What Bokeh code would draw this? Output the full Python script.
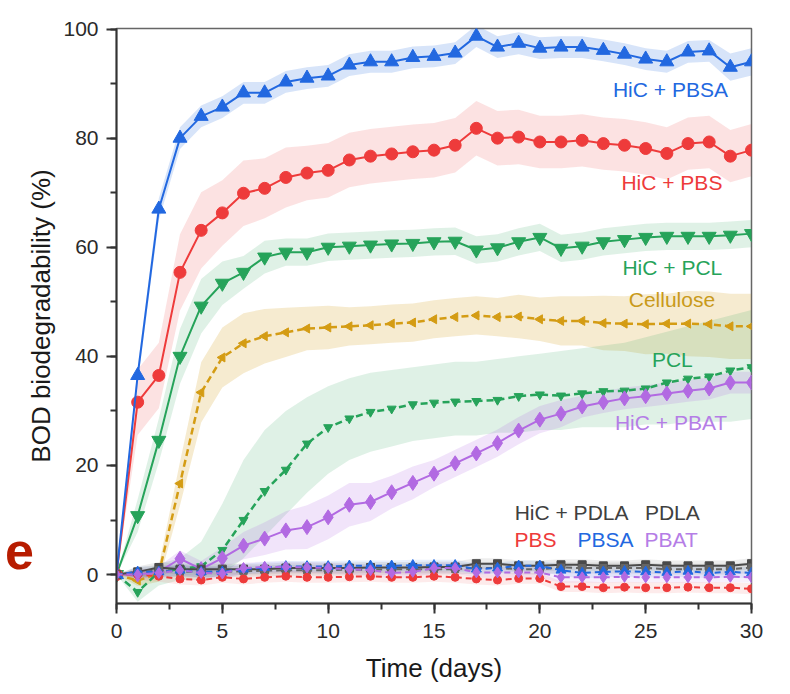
import math
from bokeh.plotting import figure
from bokeh.models import Range1d, SingleIntervalTicker, Label, Div
from bokeh.layouts import column
from bokeh.embed import file_html
from bokeh.resources import INLINE

days = list(range(31))

hic_pbsa = [0, 36.5, 67, 80, 84, 85.7, 88.3, 88.3, 90.3, 91, 91.4, 93.4, 94, 94, 94.8, 95, 95.6, 98.7, 96.7, 97.4, 96.5, 96.7, 96.7, 96.1, 95.4, 94.5, 94, 95.8, 96, 93, 94]
hic_pbsa_err = [0, 1.5, 2, 2, 2, 2, 2, 2, 2, 2, 2, 2, 2, 2, 2, 2, 2, 2, 2, 2, 2, 2, 2, 2, 2, 2, 2, 2, 2, 2.5, 2.5]

hic_pbs = [0, 31.6, 36.5, 55.4, 63.1, 66.3, 69.9, 70.8, 72.8, 73.6, 74.1, 76, 76.7, 77.1, 77.5, 77.8, 78.7, 81.8, 80, 80.2, 79.3, 79.3, 79.6, 79, 78.7, 78.1, 77.2, 79, 79.3, 76.7, 77.8]
hic_pbs_err = [0, 6, 6, 7, 7, 6, 6, 5.5, 5.5, 5, 5, 5, 5, 5, 5, 5, 5, 5, 5, 5, 4.8, 4.8, 4.8, 4.8, 4.8, 4.8, 4.8, 4.8, 4.8, 4.8, 4.8]

hic_pcl = [0, 10.8, 24.6, 40, 49.2, 53.4, 55.4, 58.2, 59.1, 59.1, 60, 60.2, 60.4, 60.6, 60.7, 61, 61.1, 59.5, 59.9, 61, 61.8, 59.8, 60.2, 61, 61.4, 61.8, 62, 62, 62, 62.2, 62.5]
hic_pcl_err = [0, 3, 4, 5, 5, 4, 3, 3, 2.5, 2.5, 2.5, 2.5, 2.5, 2.5, 2.5, 2.5, 2.5, 2.5, 2.5, 2.5, 2.5, 2.5, 2.5, 2.5, 2.5, 2.5, 2.5, 2.5, 2.5, 2.5, 2.5]

cellulose = [0, -1.1, 0.2, 16.7, 33.4, 39.8, 42.4, 43.7, 44.4, 45.1, 45.3, 45.5, 45.7, 46, 46.2, 46.8, 47.2, 47.5, 47.2, 47.3, 46.8, 46.5, 46.5, 46.1, 46, 45.9, 46, 46, 45.9, 45.5, 45.5]
cellulose_err = [0, 1, 1.5, 4, 5.5, 5.5, 5.5, 5, 4.5, 4, 4, 3.5, 3.5, 3.5, 3.5, 3.5, 3.5, 3.5, 3.5, 4, 4, 4.5, 4.5, 5, 5, 5.5, 5.5, 6, 6, 6, 6]

pcl = [0, -3.2, 0.5, 1.0, 1.5, 4.5, 10, 15.3, 19.2, 24, 27, 28.6, 29.8, 30.4, 31.2, 31.5, 31.7, 31.8, 32, 32.7, 33, 32.8, 33.2, 33.6, 33.7, 34.1, 35.2, 35.9, 36.3, 37.4, 38]
pcl_hi = [0, 0, 2, 3, 6, 13, 21, 26.5, 30, 32.5, 34.5, 36, 37, 37.5, 38, 38.5, 39, 39, 39.5, 40, 40.5, 41, 41.5, 42, 42.5, 43.5, 44.5, 45.5, 46.5, 47.5, 48.5]
pcl_lo = [0, -5, -2, -1, -1, 0, 3, 7, 11, 15, 18.5, 21, 22.5, 23.5, 24.5, 25, 25.5, 25.5, 26, 26, 26.5, 26.5, 27, 27, 27, 27.5, 27.5, 28, 28, 28, 28.5]

hic_pbat = [0, 0, 0.5, 2.9, 1.0, 3.0, 5.3, 6.6, 8.1, 8.7, 10.5, 12.8, 13.3, 15.1, 16.8, 18.5, 20.4, 22.2, 24.1, 26.4, 28.4, 29.5, 30.8, 31.6, 32.3, 32.7, 33.2, 33.7, 34.1, 35.2, 35.2]
hic_pbat_err = [0, 0.5, 1, 1.5, 1.5, 2, 2.5, 3, 3.5, 4, 4, 4, 3.5, 3, 3, 2.5, 2.5, 2.5, 2.5, 2.5, 2.5, 2.5, 2, 2, 2, 2, 2, 2, 2, 2, 2]

hic_pdla = [0, 0.5, 1.3, 1.0, 1.0, 1.0, 1.0, 1.0, 1.2, 1.2, 1.2, 1.2, 1.3, 1.3, 1.3, 1.4, 1.4, 2.0, 2.0, 1.6, 1.6, 1.8, 1.8, 1.6, 1.6, 1.8, 1.6, 1.6, 1.6, 1.6, 2.0]
pdla = [0, 0.3, 0.8, 0.5, 0.5, 0.5, 0.6, 0.7, 0.8, 0.8, 0.8, 0.9, 0.9, 1.0, 1.0, 1.0, 1.0, 1.2, 1.2, 1.0, 1.0, 1.3, 1.2, 1.2, 1.2, 1.2, 1.0, 1.0, 1.0, 1.0, 1.3]
pbs = [0, 0, -0.3, -0.8, -1.0, -0.5, -0.8, -0.5, -0.3, -0.5, -0.5, -0.4, -0.3, -0.5, -0.5, -0.3, -0.5, -0.8, -1.0, -0.7, -0.7, -2.2, -2.2, -2.4, -2.3, -2.4, -2.4, -2.3, -2.4, -2.4, -2.6]
pbsa = [0, 0.5, 0.5, 0.8, 0.5, 0.5, 1.0, 1.3, 1.5, 1.5, 1.5, 1.6, 1.6, 1.6, 1.7, 1.7, 1.7, 1.0, 1.2, 1.6, 1.6, 0.8, 0.3, 0.5, 0.6, 0.5, 0.4, 0.6, 0.3, 0.5, 0.3]
pbat = [0, 0, 0.3, 0.8, 0.3, 0.2, 1.2, 1.4, 1.4, 1.3, 1.2, 1.0, 0.8, 0.3, 0.5, 1.2, 1.2, 0.4, 0.4, 0.4, 0.4, -0.5, -0.5, -0.5, -0.4, -0.5, -0.5, -0.5, -0.5, -0.4, -0.5]
cluster_err = [0, 1, 1, 1, 1, 1, 1, 1, 1, 1, 1, 1, 1, 1, 1, 1, 1, 1, 1, 1, 1, 1, 1, 1, 1, 1, 1, 1, 1, 1, 1]

x_ticks_interval = 5
y_ticks_interval = 20

BLUE = "#2268e0"
RED = "#ee3b3b"
GREEN = "#26a35a"
GOLD = "#d49c14"
PURPLE = "#b26ae2"
GRAY = "#4a4a4a"
FONT = "Liberation Sans"

p = figure(width=788, height=692, output_backend="svg", toolbar_location=None,
           x_range=Range1d(0, 30), y_range=Range1d(-5.3, 100.1),
           min_border_left=116, min_border_top=28, min_border_right=37, min_border_bottom=89)
p.background_fill_color = "white"
p.border_fill_color = "white"
p.grid.visible = False
p.outline_line_color = "#666666"
p.outline_line_width = 1.5

def band(y, lo_err=None, hi_err=None, lo=None, hi=None, color="black", alpha=0.18):
    if lo is None:
        lo = [a - e for a, e in zip(y, lo_err)]
        hi = [a + e for a, e in zip(y, hi_err)]
    p.varea(x=days, y1=lo, y2=hi, fill_color=color, fill_alpha=alpha)

# bands
band(cellulose, cellulose_err, cellulose_err, color=GOLD, alpha=0.2)
band(pcl, lo=pcl_lo, hi=pcl_hi, color=GREEN, alpha=0.15)
band(hic_pbat, hic_pbat_err, hic_pbat_err, color=PURPLE, alpha=0.18)
band(hic_pcl, hic_pcl_err, hic_pcl_err, color=GREEN, alpha=0.15)
band(hic_pbs, hic_pbs_err, hic_pbs_err, color=RED, alpha=0.15)
band(hic_pbsa, hic_pbsa_err, hic_pbsa_err, color=BLUE, alpha=0.18)
for ser, col in [(pbs, RED), (pbsa, BLUE), (pbat, PURPLE), (pdla, GRAY), (hic_pdla, GRAY)]:
    band(ser, cluster_err, cluster_err, color=col, alpha=0.10)

# dashed series
p.line(days, cellulose, line_color=GOLD, line_width=2.5, line_dash="7 4")
p.scatter(days, cellulose, marker="triangle", angle=math.pi / 2, size=9, color=GOLD)
p.line(days, pcl, line_color=GREEN, line_width=2.5, line_dash="7 4")
p.scatter(days, pcl, marker="inverted_triangle", size=9, color=GREEN)

# solid HiC series
p.line(days, hic_pbat, line_color=PURPLE, line_width=2)
p.scatter(days, hic_pbat, marker="diamond", size=15, color=PURPLE)
p.line(days, hic_pcl, line_color=GREEN, line_width=2)
p.scatter(days, hic_pcl, marker="inverted_triangle", size=14, color=GREEN)
p.line(days, hic_pbs, line_color=RED, line_width=2)
p.scatter(days, hic_pbs, marker="circle", size=12, color=RED)
p.line(days, hic_pbsa, line_color=BLUE, line_width=2)
p.scatter(days, hic_pbsa, marker="triangle", size=14, color=BLUE)

# near-zero cluster
p.line(days, hic_pdla, line_color=GRAY, line_width=2)
p.scatter(days, hic_pdla, marker="square", size=8, color=GRAY)
p.line(days, pdla, line_color="#666666", line_width=2, line_dash="6 4")
p.scatter(days, pdla, marker="square", size=7, color="#666666")
p.line(days, pbs, line_color=RED, line_width=2, line_dash="6 4")
p.scatter(days, pbs, marker="circle", size=8, color=RED)
p.line(days, pbsa, line_color=BLUE, line_width=2, line_dash="6 4")
p.scatter(days, pbsa, marker="triangle", size=10, color=BLUE)
p.line(days, pbat, line_color=PURPLE, line_width=2, line_dash="6 4")
p.scatter(days, pbat, marker="diamond", size=11, color=PURPLE)

# axes
p.xaxis.ticker = SingleIntervalTicker(interval=x_ticks_interval, num_minor_ticks=2)
p.yaxis.ticker = SingleIntervalTicker(interval=y_ticks_interval, num_minor_ticks=2)
for ax in (p.xaxis[0], p.yaxis[0]):
    ax.axis_line_color = "#333333"
    ax.axis_line_width = 2
    ax.major_tick_line_color = "#333333"
    ax.major_tick_line_width = 2
    ax.minor_tick_line_color = "#333333"
    ax.minor_tick_line_width = 2
    ax.major_tick_in = 0
    ax.major_tick_out = 10
    ax.minor_tick_in = 0
    ax.minor_tick_out = 6
    ax.major_label_text_font = FONT
    ax.major_label_text_font_size = "21px"
    ax.major_label_text_color = "#2a2a2a"
    ax.axis_label_text_font = FONT
    ax.axis_label_text_font_size = "26px"
    ax.axis_label_text_font_style = "normal"
    ax.axis_label_text_color = "#1a1a1a"
p.xaxis.axis_label = "Time (days)"
p.yaxis.axis_label = "BOD biodegradability (%)"
p.xaxis.major_label_standoff = 10
p.yaxis.major_label_standoff = 8
p.xaxis.axis_label_standoff = 12
p.yaxis.axis_label_standoff = 4

labels = [
    ("HiC + PBSA", 26.17, 89.0, BLUE),
    ("HiC + PBS", 26.24, 71.9, RED),
    ("HiC + PCL", 26.26, 56.3, GREEN),
    ("Cellulose", 26.24, 50.5, "#c99a1a"),
    ("PCL", 26.26, 39.4, GREEN),
    ("HiC + PBAT", 26.2, 27.8, "#b57de6"),
    ("HiC + PDLA", 21.5, 11.3, "#404040"),
    ("PDLA", 26.26, 11.3, "#404040"),
    ("PBS", 19.8, 6.4, RED),
    ("PBSA", 23.1, 6.4, BLUE),
    ("PBAT", 26.2, 6.4, "#b57de6"),
]
for txt, lx, ly, col in labels:
    p.add_layout(Label(x=lx, y=ly, text=txt, text_color=col, text_font=FONT,
                       text_font_size="21px", text_align="center", text_baseline="middle"))

panel_letter = Div(
    text='<span style="font-family: \'Liberation Sans\', Arial, sans-serif; font-weight: bold; '
         'font-size: 52px; line-height: 52px; color: #b71c00;">e</span>',
    width=40, height=1,
    styles={"position": "relative", "top": "-172px", "left": "0px", "overflow": "visible"},
)

layout = column(p, panel_letter, spacing=0)
open("out.html", "w").write(file_html(layout, INLINE))
